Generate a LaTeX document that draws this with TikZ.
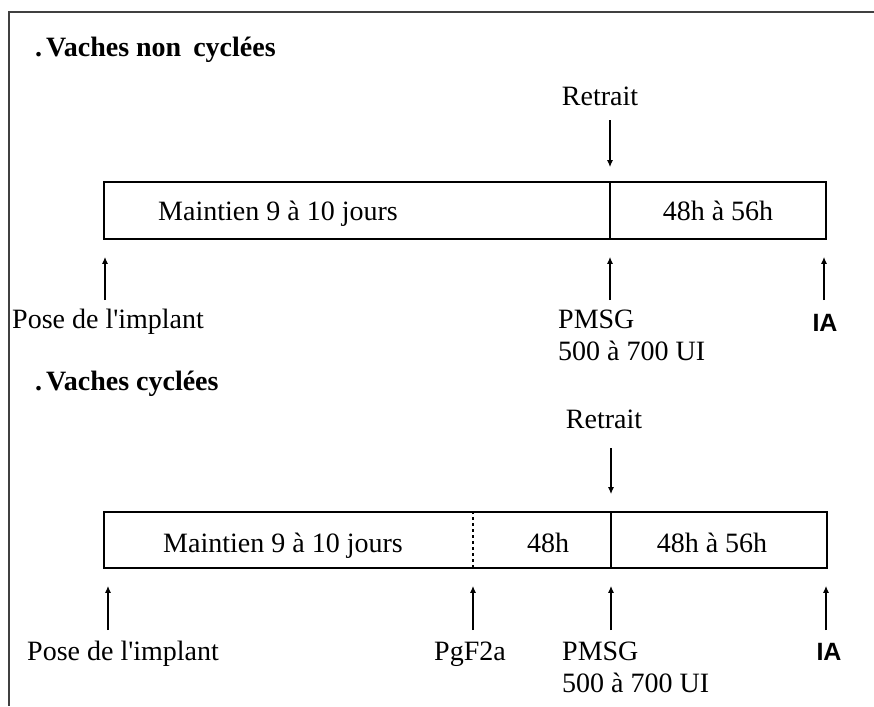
\documentclass[tikz,border=0pt]{standalone}
\usepackage{fontspec}
\setmainfont{Liberation Serif}
\newfontfamily\iafont{Liberation Sans}
\usetikzlibrary{arrows.meta}

\begin{document}
\begin{tikzpicture}[
    % GLOBAL CFG
    x=1pt, y=-1pt,
    font=\fontsize{28}{32}\selectfont,
    >={Latex[length=7pt,width=6pt]},
    % Styles
    bar/.style={% the time bar
        rectangle,
        draw,
        line width=1.6pt,
        inner sep=0pt,
        minimum height=57pt,
        },
    title/.style={% section titles
        anchor=base west,
        inner sep=0pt,
        font=\fontsize{28}{32}\selectfont\bfseries,
        },
    txt/.style={% centred texts
        anchor=base,
        inner sep=0pt,
        },
    lbl/.style={% texts under the ticks
        anchor=base west,
        inner sep=0pt,
        },
    ia/.style={% insemination
        anchor=base,
        inner sep=0pt,
        font=\fontsize{25}{28}\selectfont\iafont\bfseries,
        },
    tick/.style={% arrows to the bar
        ->,
        line width=1.4pt,
        },
    ]
\useasboundingbox (0,0) rectangle (874,706);

% Frame
\draw[line width=2pt, black!75] (874,12) -- (9,12) -- (9,706);

% Non cycling cows
\node[title] (t1) at (35,57) {.\hspace{4pt}Vaches non\hspace{5pt} cyclées};
\node[txt] (ret1) at (600,106) {Retrait};

\node[bar, minimum width=722pt] (bar1) at (465,210.5) {};
\coordinate (d1) at (610,210);
\draw[line width=1.6pt] (d1 |- bar1.north) -- (d1 |- bar1.south);
\node[txt] (m1) at (278,220) {Maintien 9 à 10 jours};
\node[txt] (h1) at (718,220) {48h à 56h};

\coordinate (a1) at (105,300);
\coordinate (a2) at (610,300);
\coordinate (a3) at (824,300);
\draw[tick, shorten <=14pt, shorten >=14pt] (d1 |- ret1.south) -- (d1 |- bar1.north);
\draw[tick, shorten >=17pt] (a1) -- (a1 |- bar1.south);
\draw[tick, shorten >=17pt] (a2) -- (a2 |- bar1.south);
\draw[tick, shorten >=17pt] (a3) -- (a3 |- bar1.south);

\node[lbl] (pose1) at (12,328) {Pose de l\textquotesingle implant};
\node[lbl] (pmsg1) at (558,328) {PMSG};
\node[lbl] (dose1) at (558,360) {500 à 700 UI};
\node[ia] (ia1) at (825,331) {IA};

% Cycling cows
\node[title] (t2) at (35,390) {.\hspace{4pt}Vaches cyclées};
\node[txt] (ret2) at (604,428) {Retrait};

\node[bar, minimum width=723pt, minimum height=56pt] (bar2) at (465.5,540) {};
\coordinate (d2) at (611,540);
\coordinate (d3) at (473,540);
\draw[line width=1.6pt] (d2 |- bar2.north) -- (d2 |- bar2.south);
\draw[line width=1.4pt, dash pattern=on 3pt off 3pt] (d3 |- bar2.north) -- (d3 |- bar2.south);
\node[txt] (m2) at (283,552) {Maintien 9 à 10 jours};
\node[txt] (p2) at (548,552) {48h};
\node[txt] (h2) at (712,552) {48h à 56h};

\coordinate (b1) at (108,630);
\coordinate (b2) at (473,630);
\coordinate (b3) at (611,630);
\coordinate (b4) at (826,630);
\draw[tick, shorten <=20pt, shorten >=17pt] (d2 |- ret2.south) -- (d2 |- bar2.north);
\draw[tick, shorten >=17pt] (b1) -- (b1 |- bar2.south);
\draw[tick, shorten >=17pt] (b2) -- (b2 |- bar2.south);
\draw[tick, shorten >=17pt] (b3) -- (b3 |- bar2.south);
\draw[tick, shorten >=17pt] (b4) -- (b4 |- bar2.south);

\node[lbl] (pose2) at (27,660) {Pose de l\textquotesingle implant};
\node[txt] (pgf) at (470,660) {PgF2a};
\node[lbl] (pmsg2) at (562,660) {PMSG};
\node[lbl] (dose2) at (562,692) {500 à 700 UI};
\node[ia] (ia2) at (829,660) {IA};

\end{tikzpicture}
\end{document}
